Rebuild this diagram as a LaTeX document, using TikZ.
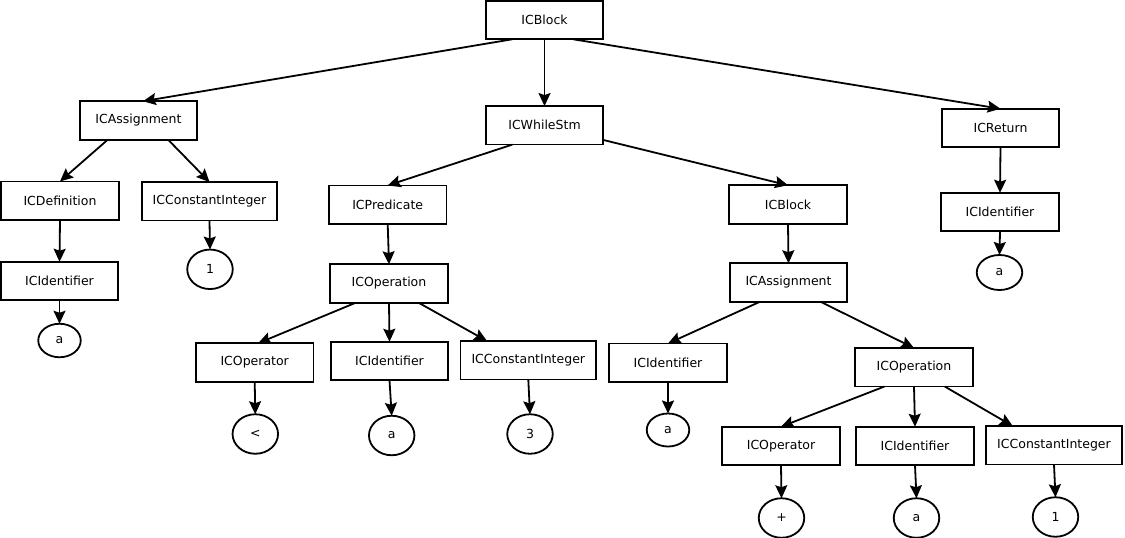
\documentclass[tikz,border=0pt]{standalone}
\usepackage{fontspec}
\setmainfont{DejaVu Sans}
\usetikzlibrary{arrows.meta,shapes.geometric}

\begin{document}
\begin{tikzpicture}[x=1pt,y=-1pt,inner sep=0pt,outer sep=0pt,line width=1.8pt,
>={Stealth[length=13pt,width=12pt,inset=2pt]},
astnode/.style={draw,rectangle,minimum width=117.5pt,minimum height=38.5pt,font=\fontsize{12.5}{14}\selectfont},
astwide/.style={astnode,minimum width=135.5pt},
astleaf/.style={draw,ellipse,minimum width=45.5pt,minimum height=39.5pt,font=\fontsize{12.5}{14}\selectfont}]

\useasboundingbox (0,0) rectangle (1125,538);

\draw (544.5,20) node[astnode] (blk) {ICBlock};
\draw (138.5,120.5) node[astnode] (asg) {ICAssignment};
\draw (544.5,125.3) node[astnode] (whl) {ICWhileStm};
\draw (1000.5,128) node[astnode] (ret) {ICReturn};
\draw (60,200.7) node[astnode] (def) {ICDefinition};
\draw (209.5,201.3) node[astwide] (cint1) {ICConstantInteger};
\draw (59.5,281) node[astnode] (id1) {ICIdentifier};
\draw (387.7,204.7) node[astnode] (pred) {ICPredicate};
\draw (788,204.5) node[astnode] (blk2) {ICBlock};
\draw (1000,212) node[astnode] (id3) {ICIdentifier};
\draw (389,283.5) node[astnode] (op1) {ICOperation};
\draw (788.5,282.5) node[astnode] (asg2) {ICAssignment};
\draw (254.7,362.5) node[astnode] (opr1) {ICOperator};
\draw (389.5,361) node[astnode] (id2) {ICIdentifier};
\draw (528.3,360.3) node[astwide] (cint2) {ICConstantInteger};
\draw (668,362.7) node[astnode] (id4) {ICIdentifier};
\draw (914,367.3) node[astnode] (op2) {ICOperation};
\draw (781,446) node[astnode] (opr2) {ICOperator};
\draw (915,446) node[astnode] (id5) {ICIdentifier};
\draw (1054,445.3) node[astwide] (cint3) {ICConstantInteger};

\draw (210,269.3) node[astleaf] (one1) {1};
\draw (59.5,340.5) node[astleaf,minimum width=42.5pt,minimum height=33.5pt] (a1) {a};
\draw (255.3,434) node[astleaf] (lt) {<};
\draw (391.7,435.5) node[astleaf] (a2) {a};
\draw (530,434) node[astleaf] (three) {3};
\draw (999.5,272.5) node[astleaf,minimum height=35pt] (a3) {a};
\draw (668,430) node[astleaf,minimum width=42.5pt,minimum height=33pt] (a4) {a};
\draw (781.5,518) node[astleaf] (plus) {+};
\draw (916.5,518) node[astleaf] (a5) {a};
\draw (1055.5,517) node[astleaf] (one2) {1};

\draw[->] (blk.211) -- (asg.77);
\draw[->] (blk.south) -- (whl.north);
\draw[->] (blk.-34) -- (ret.north);
\draw[->] (asg.212) -- (def.north);
\draw[->] (asg.-33) -- (cint1.north);
\draw[->] (def.south) -- (id1.north);
\draw[->] (cint1.south) -- (one1.north);
\draw[->] (id1.south) -- (a1.north);
\draw[->] (whl.211) -- (pred.north);
\draw[->] (whl.-14) -- (blk2.north);
\draw[->] (ret.south) -- (id3.north);
\draw[->] (id3.south) -- (a3.north);
\draw[->] (pred.south) -- (op1.north);
\draw[->] (op1.210) -- (opr1.80);
\draw[->] (op1.south) -- (id2.north);
\draw[->] (op1.-33) -- (cint2.155);
\draw[->] (opr1.south) -- (lt.north);
\draw[->] (id2.south) -- (a2.north);
\draw[->] (cint2.south) -- (three.north);
\draw[->] (blk2.south) -- (asg2.north);
\draw[->] (asg2.214) -- (id4.north);
\draw[->] (asg2.-31) -- (op2.north);
\draw[->] (id4.south) -- (a4.north);
\draw[->] (op2.213) -- (opr2.north);
\draw[->] (op2.south) -- (id5.north);
\draw[->] (op2.-32) -- (cint3.155);
\draw[->] (opr2.south) -- (plus.north);
\draw[->] (id5.south) -- (a5.north);
\draw[->] (cint3.south) -- (one2.north);
\end{tikzpicture}
\end{document}
